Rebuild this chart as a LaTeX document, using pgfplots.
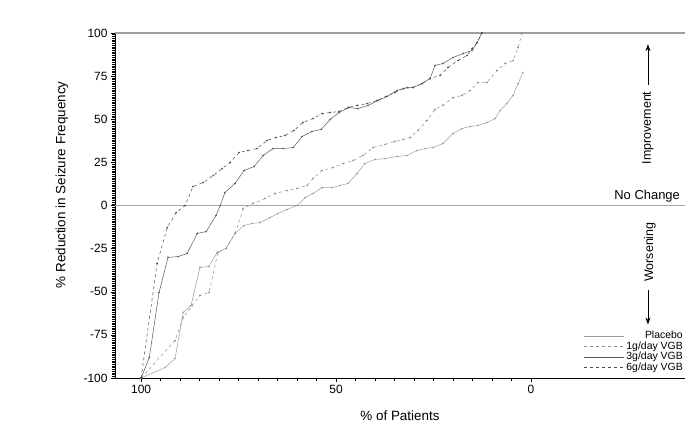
\documentclass[border=0pt]{standalone}
\usepackage{fontspec}
\setmainfont{Liberation Sans}
\usepackage{pgfplots}
\pgfplotsset{compat=1.18}
\usetikzlibrary{arrows.meta}

\definecolor{plc}{gray}{0.62}
\definecolor{lowd}{gray}{0.55}
\definecolor{midd}{gray}{0.35}
\definecolor{highd}{gray}{0.30}

% x = % of patients (reversed), y = % reduction in seizure frequency
\pgfplotstableread{
x y
100.0 -100
93.8 -93.9
91.3 -88.7
89.2 -62.0
87.2 -58.0
84.9 -35.9
82.6 -35.4
80.5 -27.2
78.2 -24.9
75.9 -16.2
73.6 -11.6
71.5 -10.4
69.5 -9.9
66.9 -7.0
64.9 -4.6
62.6 -2.3
60.0 0.0
57.9 4.6
55.9 7.0
53.6 10.4
51.0 10.4
49.0 11.6
46.9 12.8
44.6 18.6
42.6 24.3
40.0 26.7
37.4 27.2
34.4 28.4
31.8 29.0
29.2 31.9
27.2 33.0
25.1 33.6
22.6 35.9
20.0 41.7
17.7 44.6
15.6 45.8
13.6 46.4
11.3 48.1
9.2 50.4
7.9 55.1
6.2 59.1
4.6 63.8
3.3 70.7
2.1 77.1
}\placebo

\pgfplotstableread{
x y
100.0 -100
91.3 -78.3
89.2 -64.9
86.9 -58.0
84.9 -52.2
82.6 -50.4
80.3 -27.2
78.2 -24.9
75.9 -16.2
73.8 -1.7
71.3 1.2
68.2 4.1
65.6 7.0
62.6 8.7
60.0 9.9
57.4 11.6
55.9 15.7
53.6 20.3
50.8 22.0
48.2 24.3
45.6 26.1
43.1 29.0
40.5 33.6
37.4 35.4
34.9 37.1
32.8 38.3
31.0 39.4
29.0 43.5
26.7 49.3
24.6 55.7
22.6 58.0
20.0 62.6
17.7 63.8
15.6 66.7
13.6 71.3
11.3 71.3
8.7 78.3
6.7 82.3
4.6 84.1
3.3 91.6
2.3 100
}\onegram

\pgfplotstableread{
x y
100.0 -100
97.9 -88.1
95.4 -50.4
93.1 -30.1
90.5 -29.6
88.2 -27.8
85.6 -16.2
83.3 -15.1
80.8 -5.8
79.7 0.0
78.5 7.5
75.9 12.8
73.6 20.3
71.0 22.6
68.7 29.0
66.2 33.0
63.6 33.0
61.0 33.6
58.7 40.0
56.2 42.9
53.8 44.1
51.5 49.9
49.2 53.9
46.7 56.8
44.4 56.2
41.8 58.0
39.2 60.9
36.9 63.2
34.4 66.7
31.8 68.4
30.3 68.4
27.9 70.7
25.9 73.6
24.6 81.2
22.6 82.3
20.0 85.8
17.4 88.1
15.1 89.9
13.8 94.5
12.6 100
}\threegram

\pgfplotstableread{
x y
100.0 -100
95.9 -33.6
93.3 -12.8
91.0 -4.1
88.7 0.0
86.7 11.0
84.1 13.3
81.5 17.4
79.2 21.4
77.2 24.9
74.9 30.7
72.6 31.9
70.3 33.0
67.7 37.7
65.4 39.4
63.1 40.6
60.8 43.5
58.5 48.1
55.9 50.4
53.6 53.3
51.5 53.9
49.2 54.5
46.9 56.8
44.6 58.0
42.1 59.1
39.5 60.9
37.2 63.2
34.9 65.5
32.6 67.8
30.3 68.4
27.9 70.7
25.9 73.6
23.3 75.4
21.3 80.0
18.7 84.1
16.4 87.0
15.1 91.0
13.8 94.5
12.6 100
}\sixgram

\begin{document}
\begin{tikzpicture}
\begin{axis}[
    scale only axis,
    width=570bp, height=345bp,
    x dir=reverse,
    xmin=-39.5, xmax=106.7,
    ymin=-100, ymax=100,
    axis x line*=bottom,
    axis y line*=left,
    axis line style={black, line width=0.8bp},
    xtick={0,50,100},
    minor xtick={5,10,...,95},
    ytick={-100,-75,...,100},
    minor y tick num=24,
    tick align=outside,
    major tick length=4bp,
    minor tick length=2.5bp,
    tick style={black, line width=0.5bp},
    /pgf/number format/assume math mode=true,
    ticklabel style={font=\fontsize{12}{12}\selectfont},
    xlabel={\% of Patients},
    ylabel={\% Reduction in Seizure Frequency},
    label style={font=\fontsize{13.5}{14}\selectfont},
    xlabel style={at={(axis description cs:0.5,-0.11)}, anchor=center},
    ylabel style={at={(axis description cs:-0.093,0.56)}, anchor=center},
    every axis plot/.append style={line width=0.5bp, mark=*, mark size=0.6bp},
    legend style={at={(axis description cs:1,0)}, anchor=south east, yshift=4bp,
        draw=none, fill=none, inner sep=0pt,
        font=\fontsize{10.5}{10.5}\selectfont, row sep=-2.6bp,
        /tikz/every even column/.style={column sep=2bp}},
    legend cell align=right,
    legend image code/.code={\draw[#1] (0bp,0bp) -- (40bp,0bp);},
]
\addplot[plc, solid, mark options={plc}] table {\placebo};
\addlegendentry{Placebo}
\addplot[lowd, dashed, mark options={lowd, solid}] table {\onegram};
\addlegendentry{1g/day VGB}
\addplot[midd, solid, mark options={midd}] table {\threegram};
\addlegendentry{3g/day VGB}
\addplot[highd, dashed, mark options={highd, solid}] table {\sixgram};
\addlegendentry{6g/day VGB}

\draw[gray!70, line width=1.3bp] (axis cs:106.7,0) -- (axis cs:-39.5,0);
\draw[gray!75, line width=2bp] (axis cs:106.7,100) -- (axis cs:-39.5,100);

\node[anchor=south east, inner sep=1bp, font=\fontsize{13}{13}\selectfont]
    at (axis cs:-38.5,1) {No Change};
\node[rotate=90, font=\fontsize{12.5}{13}\selectfont]
    at (axis cs:-30,45) {Improvement};
\draw[-{Stealth[length=7bp,width=5bp]}, line width=0.7bp] (axis cs:-30,70) -- (axis cs:-30,93.5);
\node[rotate=90, font=\fontsize{12.5}{13}\selectfont]
    at (axis cs:-30.5,-27) {Worsening};
\draw[-{Stealth[length=7bp,width=5bp]}, line width=0.7bp] (axis cs:-30,-49) -- (axis cs:-30,-69);
\end{axis}
\pgfresetboundingbox
\path[use as bounding box] ([xshift=-115bp,yshift=-68bp]current axis.south west)
    rectangle ([xshift=8bp,yshift=33bp]current axis.north east);
\end{tikzpicture}
\end{document}
